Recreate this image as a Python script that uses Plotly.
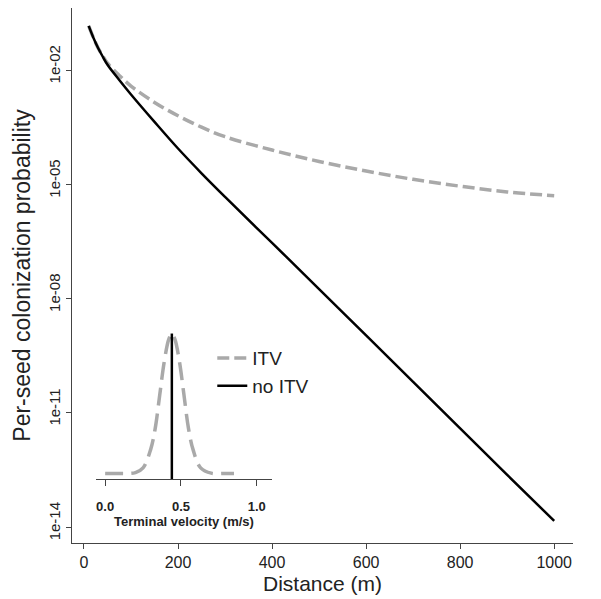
import plotly.graph_objects as go

# ---- main curves (log10 of per-seed colonization probability) ----
distance_itv = [10, 20, 30, 40, 50, 75, 100, 150, 200, 250, 300, 400, 500, 600, 700, 800, 900, 1000]
log_prob_itv = [-0.84, -1.15, -1.42, -1.63, -1.82, -2.14, -2.42, -2.85, -3.20, -3.50, -3.75, -4.10, -4.40, -4.65, -4.87, -5.05, -5.20, -5.30]

distance_noitv = [10, 20, 30, 40, 50, 75, 100, 150, 200, 250, 300, 400, 500, 600, 700, 800, 900, 1000]
log_prob_noitv = [-0.84, -1.15, -1.42, -1.65, -1.86, -2.26, -2.64, -3.36, -4.06, -4.71, -5.33, -6.54, -7.75, -8.97, -10.19, -11.41, -12.63, -13.84]

prob_itv = [10 ** v for v in log_prob_itv]
prob_noitv = [10 ** v for v in log_prob_noitv]

y_tick_vals = [1e-2, 1e-5, 1e-8, 1e-11, 1e-14]
y_tick_text = ["1e-02", "1e-05", "1e-08", "1e-11", "1e-14"]
x_tick_vals = [0, 200, 400, 600, 800, 1000]

# ---- inset: terminal velocity distributions ----
velocity = [0.0, 0.10, 0.20, 0.25, 0.30, 0.33, 0.36, 0.39, 0.42, 0.44, 0.46, 0.49, 0.52, 0.55, 0.58, 0.63, 0.70, 0.80, 0.85]
density = [0.0, 0.0, 0.006, 0.04, 0.17, 0.32, 0.56, 0.80, 0.96, 1.0, 0.96, 0.80, 0.56, 0.32, 0.17, 0.04, 0.002, 0.0, 0.0]
fixed_velocity = [0.44, 0.44]
fixed_density = [-0.04, 1.0]
inset_ticks = [0.0, 0.5, 1.0]

GRAY = "#a9a9a9"
FONT = "Liberation Sans, Arial, sans-serif"
TXT = "#222222"
PAD = "\u00a0\u2009"  # nudges rotated y tick labels to sit centred on their ticks

fig = go.Figure()

fig.add_trace(go.Scatter(
    x=distance_itv, y=prob_itv, mode="lines", name="ITV", legendgroup="a",
    line=dict(color=GRAY, width=3.5, dash="12px,5px", shape="spline"),
))
fig.add_trace(go.Scatter(
    x=distance_noitv, y=prob_noitv, mode="lines", name="no ITV", legendgroup="b",
    line=dict(color="black", width=2.5, shape="spline"),
))

fig.add_trace(go.Scatter(
    x=velocity, y=density, mode="lines", xaxis="x2", yaxis="y2", showlegend=False,
    line=dict(color=GRAY, width=3.5, dash="18px,8px", shape="spline"),
))
fig.add_trace(go.Scatter(
    x=fixed_velocity, y=fixed_density, mode="lines", xaxis="x2", yaxis="y2", showlegend=False,
    line=dict(color="black", width=2.5),
))

# the page body adds an 8px offset, so the figure itself is 8px smaller
fig.update_layout(
    width=593, height=591,
    margin=dict(l=64, r=28, t=0, b=56),
    paper_bgcolor="white", plot_bgcolor="white",
    font=dict(family=FONT, color=TXT),
    showlegend=True,
    legend=dict(x=0.28, y=0.381, xanchor="left", yanchor="top",
                font=dict(size=19, color=TXT), bgcolor="rgba(0,0,0,0)",
                tracegroupgap=0),
    xaxis=dict(
        range=[-25.5, 1040], tickvals=x_tick_vals, ticks="outside", ticklen=5,
        tickcolor="#444", showline=True, linecolor="#444", linewidth=1.2,
        showgrid=False, zeroline=False, tickfont=dict(size=16, color=TXT),
        automargin=False,
        title=dict(text="Distance (m)", font=dict(size=21, color=TXT), standoff=6),
    ),
    yaxis=dict(
        type="log", range=[-14.42, -0.37], tickvals=y_tick_vals,
        ticktext=[PAD + t for t in y_tick_text],
        tickangle=-90, ticks="outside", ticklen=5, tickcolor="#444",
        showline=True, linecolor="#444", linewidth=1.2,
        showgrid=False, zeroline=False, tickfont=dict(size=15, color=TXT),
        automargin=False,
        title=dict(text="Per-seed colonization probability", font=dict(size=23, color=TXT), standoff=8),
    ),
    xaxis2=dict(
        domain=[0.048, 0.399], anchor="y2", range=[-0.06, 1.1],
        tickvals=inset_ticks, tickformat=".1f", ticks="outside", ticklen=6,
        ticklabelstandoff=9,
        tickcolor="#444", showline=True, linecolor="#444", linewidth=1.2,
        showgrid=False, zeroline=False, automargin=False,
        tickfont=dict(size=13, color=TXT, weight="bold"),
        title=dict(text="Terminal velocity (m/s)", font=dict(size=13, color=TXT, weight="bold"), standoff=3),
    ),
    yaxis2=dict(
        domain=[0.1196, 0.402], anchor="x2", range=[-0.04, 1.04], visible=False,
    ),
)

fig.write_html("out.html")
